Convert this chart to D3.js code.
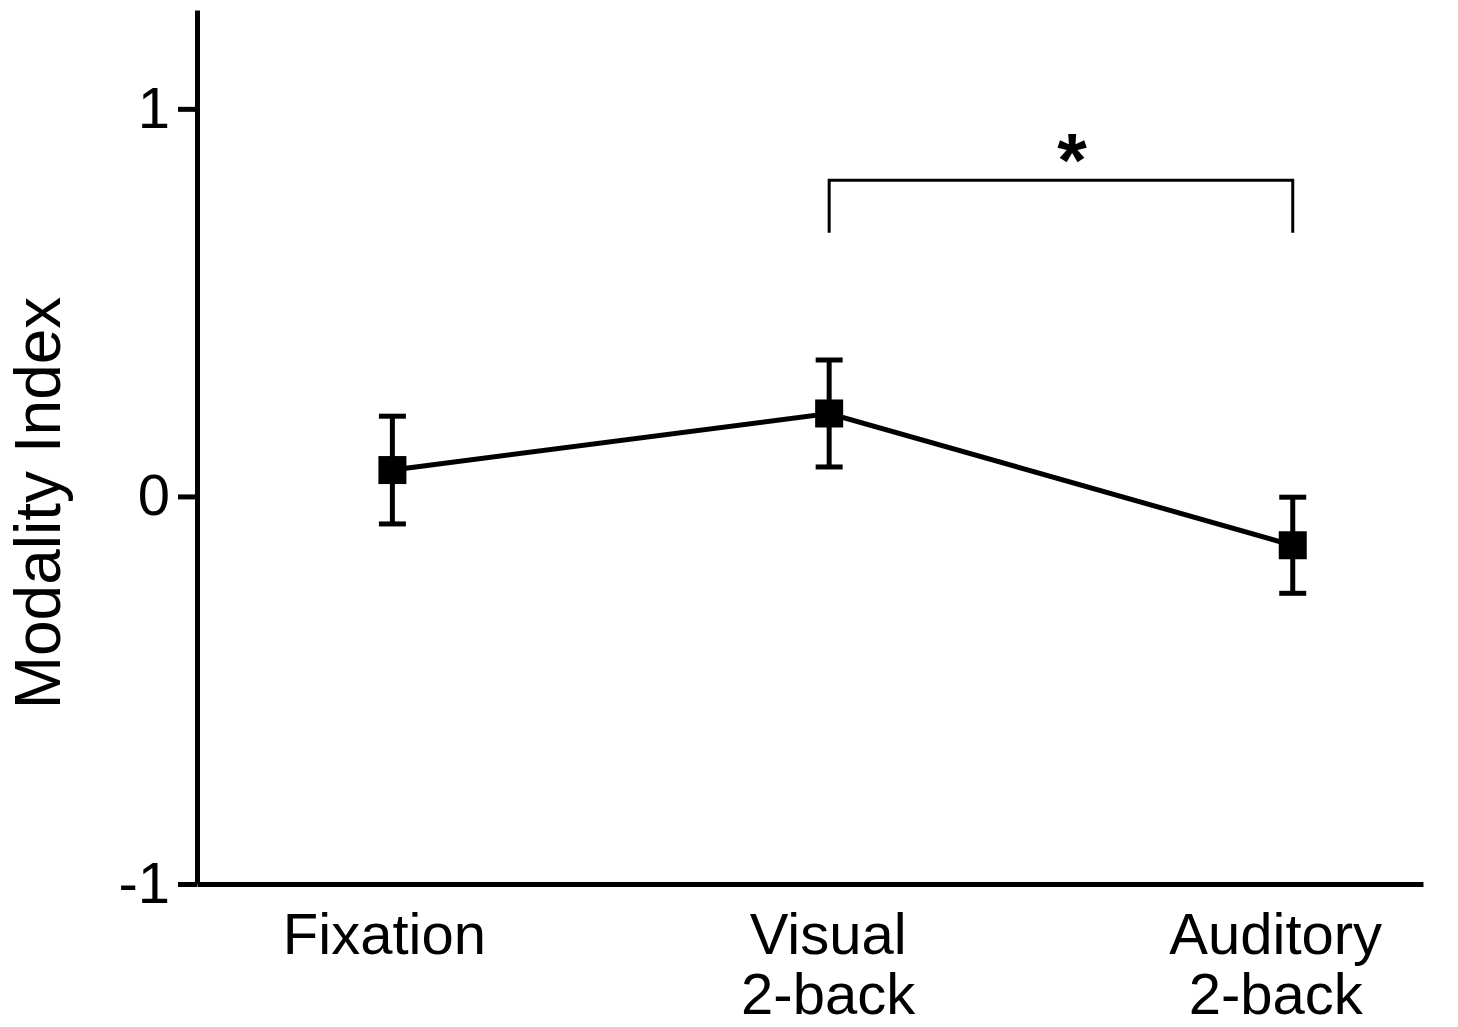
<!DOCTYPE html>
<html>
<head>
<meta charset="utf-8">
<script src="https://cdn.jsdelivr.net/npm/d3@7"></script>
<style>
  html, body { margin: 0; padding: 0; background: #fff; }
  svg { display: block; font-family: Arial, "Liberation Sans", sans-serif; }
</style>
</head>
<body>
<svg id="chart" width="1458" height="1027"></svg>
<script>
// data
const categories = [['Fixation'], ['Visual', '2-back'], ['Auditory', '2-back']];
const catPos = [0.51, 1.65, 2.86];      // position of each condition along x
const means = [0.068, 0.214, -0.126];   // modality index
const errors = [0.139, 0.138, 0.124];   // error bar half length
const yTicks = [-1, 0, 1];
// significance bracket between Visual and Auditory
const sigPair = [1, 2];
const sigTop = 0.816;
const sigBottom = 0.68;
const sigStar = 0.87;

const svg = d3.select('#chart');
const plotLeft = 197, plotRight = 1423, plotTop = 10, plotBottom = 884;
const labelNudge = [-8, -1, -17]; // labels sit a little left of their points

const x = d3.scaleLinear().domain([0, 3.2]).range([plotLeft, plotRight]);
const y = d3.scaleLinear().domain([-1, 1.255]).range([plotBottom, plotTop]);

// y axis
const yAxis = svg.append('g')
    .attr('transform', `translate(${plotLeft},0)`)
    .call(d3.axisLeft(y).tickValues(yTicks).tickFormat(d => String(d))
        .tickSize(19).tickSizeOuter(0).tickPadding(8));
yAxis.select('.domain').attr('stroke', '#000').attr('stroke-width', 5);
yAxis.selectAll('.tick line').attr('stroke', '#000').attr('stroke-width', 5);
yAxis.selectAll('.tick text')
    .attr('font-size', 58)
    .attr('font-family', 'Arial, "Liberation Sans", sans-serif')
    .attr('fill', '#000');

// x axis (no ticks, just the baseline)
const xAxis = svg.append('g')
    .attr('transform', `translate(0,${plotBottom})`)
    .call(d3.axisBottom(x).tickValues([]).tickSizeOuter(0));
xAxis.select('.domain').attr('stroke', '#000').attr('stroke-width', 5);

// category labels
const labels = svg.append('g')
    .attr('font-size', 58)
    .attr('text-anchor', 'middle')
    .attr('fill', '#000');
categories.forEach((lines, i) => {
    const cx = x(catPos[i]) + labelNudge[i];
    const t = labels.append('text')
        .attr('x', cx)
        .attr('y', 954);
    lines.forEach((ln, j) => {
        t.append('tspan')
            .attr('x', cx)
            .attr('dy', j === 0 ? 0 : 60)
            .text(ln);
    });
});

// y axis title
svg.append('text')
    .attr('transform', `translate(60,503) rotate(-90)`)
    .attr('text-anchor', 'middle')
    .attr('font-size', 64)
    .attr('fill', '#000')
    .text('Modality Index');

const points = means.map((m, i) => ({ x: catPos[i], y: m, e: errors[i] }));

// connecting line
svg.append('path')
    .datum(points)
    .attr('fill', 'none')
    .attr('stroke', '#000')
    .attr('stroke-width', 5)
    .attr('d', d3.line().x(d => x(d.x)).y(d => y(d.y)));

// error bars
const eb = svg.append('g').attr('stroke', '#000').attr('stroke-width', 5);
const capW = 27;
points.forEach(d => {
    eb.append('line')
        .attr('x1', x(d.x)).attr('x2', x(d.x))
        .attr('y1', y(d.y + d.e)).attr('y2', y(d.y - d.e));
    [d.y + d.e, d.y - d.e].forEach(v => {
        eb.append('line')
            .attr('x1', x(d.x) - capW / 2).attr('x2', x(d.x) + capW / 2)
            .attr('y1', y(v)).attr('y2', y(v));
    });
});

// square markers
const sq = 28;
svg.append('g').selectAll('rect')
    .data(points)
    .join('rect')
    .attr('x', d => x(d.x) - sq / 2)
    .attr('y', d => y(d.y) - sq / 2)
    .attr('width', sq)
    .attr('height', sq)
    .attr('fill', '#000');

// significance bracket
const xa = x(catPos[sigPair[0]]), xb = x(catPos[sigPair[1]]);
svg.append('path')
    .attr('fill', 'none')
    .attr('stroke', '#000')
    .attr('stroke-width', 3)
    .attr('d', `M${xa},${y(sigBottom)}V${y(sigTop)}H${xb}V${y(sigBottom)}`);

svg.append('text')
    .attr('x', (xa + xb) / 2 + 11)
    .attr('y', y(sigStar))
    .attr('text-anchor', 'middle')
    .attr('dominant-baseline', 'central')
    .attr('font-size', 76)
    .attr('font-weight', 'bold')
    .attr('fill', '#000')
    .text('*');
</script>
</body>
</html>
